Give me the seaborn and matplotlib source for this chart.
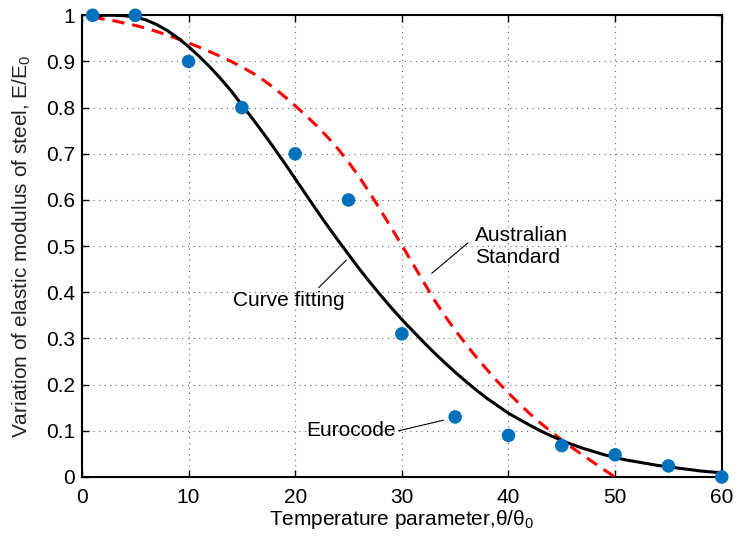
import matplotlib
matplotlib.use('Agg')
import matplotlib.pyplot as plt
import pandas as pd
import seaborn as sns

# ---------------------------------------------------------------------------
# Dados
# ---------------------------------------------------------------------------
euro_x = [1, 5, 10, 15, 20, 25, 30, 35, 40, 45, 50, 55, 60]
euro_y = [1.0, 1.0, 0.9, 0.8, 0.7, 0.6, 0.31, 0.13, 0.09, 0.068, 0.048, 0.024, 0.0]

# Ajuste de curva (linha preta)
fit_x = [1, 2, 3, 4, 5, 6, 7, 8, 9, 10, 11, 12, 13, 14, 15, 16, 17, 18, 19, 20,
         21, 22, 23, 24, 25, 26, 27, 28, 29, 30, 31, 32, 33, 34, 35, 36, 37, 38,
         39, 40, 41, 42, 43, 44, 45, 46, 47, 48, 49, 50, 51, 52, 53, 54, 55, 56,
         57, 58, 59, 60]
fit_y = [0.998, 1.0, 1.0, 0.999, 0.996, 0.990, 0.980, 0.967, 0.951, 0.932,
         0.911, 0.888, 0.863, 0.836, 0.806, 0.776, 0.745, 0.713, 0.680, 0.646,
         0.612, 0.578, 0.545, 0.513, 0.482, 0.451, 0.422, 0.394, 0.367, 0.341,
         0.317, 0.293, 0.270, 0.248, 0.227, 0.207, 0.188, 0.170, 0.154, 0.138,
         0.125, 0.112, 0.100, 0.089, 0.079, 0.070, 0.062, 0.055, 0.048, 0.042,
         0.037, 0.033, 0.029, 0.025, 0.022, 0.019, 0.016, 0.013, 0.011, 0.009]

# Norma australiana (linha tracejada vermelha)
as_x = [1, 2, 3, 4, 5, 6, 7, 8, 9, 10, 11, 12, 13, 14, 15, 16, 17, 18, 19, 20,
        21, 22, 23, 24, 25, 26, 27, 28, 29, 30, 31, 32, 33, 34, 35, 36, 37, 38,
        39, 40, 41, 42, 43, 44, 45, 46, 47, 48, 49, 50]
as_y = [0.996, 0.992, 0.988, 0.983, 0.978, 0.972, 0.965, 0.957, 0.949, 0.940,
        0.931, 0.921, 0.911, 0.900, 0.888, 0.875, 0.860, 0.843, 0.824, 0.804,
        0.783, 0.761, 0.737, 0.711, 0.682, 0.650, 0.615, 0.578, 0.540, 0.502,
        0.463, 0.424, 0.385, 0.350, 0.318, 0.288, 0.259, 0.232, 0.206, 0.182,
        0.159, 0.137, 0.117, 0.098, 0.080, 0.063, 0.047, 0.031, 0.015, 0.0]

x_ticks = [0, 10, 20, 30, 40, 50, 60]
y_ticks = [0, 0.1, 0.2, 0.3, 0.4, 0.5, 0.6, 0.7, 0.8, 0.9, 1.0]
y_labels = ['0', '0.1', '0.2', '0.3', '0.4', '0.5', '0.6', '0.7', '0.8', '0.9', '1']

# ---------------------------------------------------------------------------
# Estilo
# ---------------------------------------------------------------------------
sns.set_style('white')
plt.rcParams['font.family'] = ['Liberation Sans', 'DejaVu Sans']
plt.rcParams['mathtext.fontset'] = 'custom'
plt.rcParams['mathtext.rm'] = 'Liberation Sans'
plt.rcParams['text.color'] = 'black'
plt.rcParams['axes.labelcolor'] = 'black'
plt.rcParams['xtick.color'] = 'black'
plt.rcParams['ytick.color'] = 'black'
FS = 15

fig = plt.figure(figsize=(7.38, 5.40), dpi=100)
ax = fig.add_axes([0.111, 0.1167, 0.867, 0.855])

df_fit = pd.DataFrame({'x': fit_x, 'y': fit_y})
df_as = pd.DataFrame({'x': as_x, 'y': as_y})
df_euro = pd.DataFrame({'x': euro_x, 'y': euro_y})

sns.lineplot(data=df_as, x='x', y='y', ax=ax, color='#ff0000', lw=2.2,
             sort=False, zorder=3)
ax.lines[-1].set_dashes([4, 2.6])
sns.lineplot(data=df_fit, x='x', y='y', ax=ax, color='black', lw=2.2,
             sort=False, zorder=4)
ax.lines[-1].set_solid_joinstyle('round')
sns.scatterplot(data=df_euro, x='x', y='y', ax=ax, color='#0072BD', s=95,
                edgecolor='none', zorder=5, clip_on=False)

ax.set_xlim(0, 60)
ax.set_ylim(0, 1)
ax.set_xticks(x_ticks)
ax.set_yticks(y_ticks)
ax.set_yticklabels(y_labels)
ax.tick_params(direction='in', length=5, width=1, labelsize=FS,
               top=True, right=True, bottom=True, left=True)
ax.tick_params(axis='x', pad=8)
ax.tick_params(axis='y', pad=5)
ax.grid(True, ls=(0, (1, 4)), color='#666666', lw=0.8)
for sp in ax.spines.values():
    sp.set_linewidth(1.5)
    sp.set_color('black')

ax.set_xlabel('Temperature parameter,θ/θ$_\\mathrm{0}$', fontsize=FS, labelpad=1)
ax.set_ylabel('Variation of elastic modulus of steel, E/E$_\\mathrm{0}$',
              fontsize=FS, labelpad=9, color='#222222')

# Anotações
ax.text(36.9, 0.50, 'Australian\nStandard', fontsize=FS, ha='left', va='center')
ax.plot([32.8, 36.2], [0.441, 0.507], color='black', lw=0.8)
ax.text(19.4, 0.383, 'Curve fitting', fontsize=FS, ha='center', va='center')
ax.plot([22.2, 24.8], [0.41, 0.47], color='black', lw=0.8)
ax.text(25.2, 0.10, 'Eurocode', fontsize=FS, ha='center', va='center')
ax.plot([29.7, 33.9], [0.10, 0.123], color='black', lw=0.8)

fig.savefig('out.png', dpi=100)
plt.close(fig)
